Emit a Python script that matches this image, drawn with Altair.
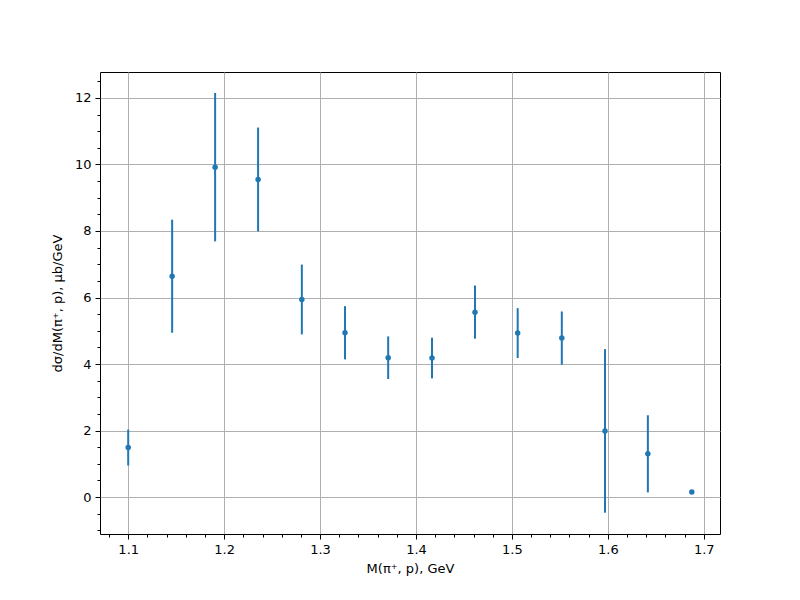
import altair as alt
import pandas as pd

# Data
mass = [1.1, 1.1458, 1.1906, 1.2354, 1.281, 1.326, 1.371, 1.4167, 1.4615, 1.506, 1.552, 1.597, 1.6417, 1.6875]
xsec = [1.49, 6.64, 9.92, 9.55, 5.94, 4.94, 4.19, 4.18, 5.56, 4.93, 4.78, 1.99, 1.30, 0.15]
err = [0.54, 1.70, 2.23, 1.56, 1.05, 0.80, 0.64, 0.61, 0.80, 0.75, 0.80, 2.46, 1.16, 0.0]

x_major = [1.1, 1.2, 1.3, 1.4, 1.5, 1.6, 1.7]
x_minor = [round(1.08 + 0.02 * i, 2) for i in range(32)]
y_major = [0, 2, 4, 6, 8, 10, 12]
y_minor = [-1 + 0.5 * i for i in range(28)]

df = pd.DataFrame({
    "m": mass,
    "s": xsec,
    "lo": [v - e for v, e in zip(xsec, err)],
    "hi": [v + e for v, e in zip(xsec, err)],
})

blue = "#1f77b4"
xscale = alt.Scale(domain=[1.0706, 1.7169], nice=False, zero=False)
yscale = alt.Scale(domain=[-1.11, 12.78], nice=False, zero=False)

common = dict(labelFont="DejaVu Sans", labelFontSize=13, labelColor="black",
              titleFont="DejaVu Sans", titleFontSize=13, titleColor="black",
              titleFontWeight="normal", tickColor="black", domain=False)

x_axis_major = alt.Axis(values=x_major, format=".1f", grid=True, gridColor="#b0b0b0",
                        gridWidth=1, tickSize=5, labelPadding=4, titlePadding=6,
                        title="M(π⁺, p), GeV", orient="bottom", **common)
y_axis_major = alt.Axis(values=y_major, format="d", grid=True, gridColor="#b0b0b0",
                        gridWidth=1, tickSize=5, labelPadding=4, titlePadding=10,
                        title="dσ/dM(π⁺, p), μb/GeV", orient="left", **common)
x_axis_minor = alt.Axis(values=x_minor, labels=False, grid=False, tickSize=3,
                        tickColor="black", domain=False, title=None, orient="bottom")
y_axis_minor = alt.Axis(values=y_minor, labels=False, grid=False, tickSize=3,
                        tickColor="black", domain=False, title=None, orient="left")

bars = alt.Chart(df).mark_rule(color=blue, strokeWidth=2).encode(
    x=alt.X("m:Q", scale=xscale, axis=x_axis_major),
    y=alt.Y("lo:Q", scale=yscale, axis=y_axis_major),
    y2="hi:Q",
)

points = alt.Chart(df).mark_circle(color=blue, size=30, opacity=1).encode(
    x=alt.X("m:Q", scale=xscale, axis=x_axis_minor),
    y=alt.Y("s:Q", scale=yscale, axis=y_axis_minor),
)

chart = alt.layer(bars, points).resolve_axis(
    x="independent", y="independent"
).properties(
    width=620, height=462,
    autosize=alt.AutoSizeParams(type="none"),
    padding={"left": 92, "top": 64, "right": 72, "bottom": 58},
).configure_view(stroke="black", strokeWidth=1)

chart.save("out.html", embed_options={"renderer": "svg", "actions": False})
